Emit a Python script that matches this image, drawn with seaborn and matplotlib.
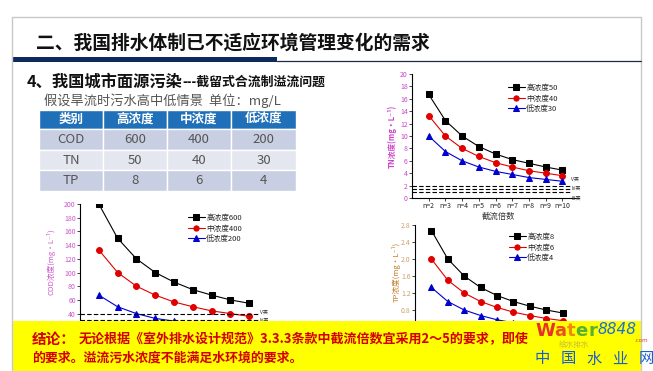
import numpy as np
import pandas as pd
import matplotlib.pyplot as plt
import seaborn as sns
from matplotlib.patches import Rectangle

sns.set_theme(style="ticks")
plt.rcParams['font.family'] = ['Noto Sans CJK SC', 'DejaVu Sans']
plt.rcParams['axes.unicode_minus'] = False

W, H = 653, 371

# data
n_values = [2, 3, 4, 5, 6, 7, 8, 9, 10]
n_labels = ["n=2", "n=3", "n=4", "n=5", "n=6", "n=7", "n=8", "n=9", "n=10"]

tn_high = [16.7, 12.5, 10.0, 8.3, 7.1, 6.2, 5.6, 5.0, 4.5]
tn_mid = [13.3, 10.0, 8.0, 6.7, 5.7, 5.0, 4.4, 4.0, 3.6]
tn_low = [10.0, 7.5, 6.0, 5.0, 4.3, 3.8, 3.3, 3.0, 2.7]

cod_high = [200, 150, 120, 100, 86, 75, 67, 60, 55]
cod_mid = [133, 100, 80, 67, 57, 50, 44, 40, 36]
cod_low = [67, 50, 40, 33, 29, 25, 22, 20, 18]

tp_high = [2.67, 2.0, 1.6, 1.33, 1.14, 1.0, 0.89, 0.8, 0.73]
tp_mid = [2.0, 1.5, 1.2, 1.0, 0.86, 0.75, 0.67, 0.6, 0.55]
tp_low = [1.33, 1.0, 0.8, 0.67, 0.57, 0.5, 0.44, 0.4, 0.36]

std_labels = ["V类", "IV类", "III类"]
tn_std = [2.0, 1.5, 1.0]
cod_std = [40, 30, 20]
tp_std = [0.4, 0.3, 0.2]

table_header = ["类别", "高浓度", "中浓度", "低浓度"]
table_rows = [["COD", "600", "400", "200"],
              ["TN", "50", "40", "30"],
              ["TP", "8", "6", "4"]]

fig = plt.figure(figsize=(W / 100, H / 100), dpi=100)
fig.patch.set_facecolor("white")


def ax_px(x0, y0, x1, y1):
    return fig.add_axes([x0 / W, 1 - y1 / H, (x1 - x0) / W, (y1 - y0) / H])


colors = ["black", "#e00000", "#0000d0"]
markers = ["s", "o", "^"]


def draw_chart(ax, series, labels, std, ylim, yticks, tick_color, leg_xy,
               show_x=True, std_shown=3, label_gap=0.0):
    for vals, lab, c, m in zip(series, labels, colors, markers):
        df = pd.DataFrame({"n": n_values, "v": vals})
        sns.lineplot(data=df, x="n", y="v", ax=ax, color=c, marker=m,
                     markersize=4.2, markeredgecolor=c, linewidth=0.8, label=lab)
    ax.hlines(std, 1, 10.5, colors="black", linestyles=(0, (4, 2)), linewidth=0.8)
    # labels of the water-quality classes are spread a little apart
    for k, (v, t) in enumerate(list(zip(std, std_labels))[:std_shown]):
        ax.text(10.55, v + (1 - k) * label_gap, t, fontsize=3.6, va="center",
                ha="left", color="#333")
    ax.set_xlim(1, 11)
    ax.set_ylim(*ylim)
    ax.set_yticks(yticks)
    ax.set_xticks(n_values)
    if show_x:
        ax.set_xticklabels(n_labels)
    else:
        ax.set_xticklabels([])
    ax.set_xlabel("")
    ax.set_ylabel("")
    ax.set_facecolor("none")
    for s in ["top", "right"]:
        ax.spines[s].set_visible(False)
    for s in ["left", "bottom"]:
        ax.spines[s].set_linewidth(0.8)
        ax.spines[s].set_color("black")
    ax.tick_params(length=2, width=0.6, labelsize=5, pad=1)
    ax.tick_params(axis="y", labelcolor=tick_color)
    ax.legend(frameon=False, fontsize=5.5, loc="upper left",
              bbox_to_anchor=(leg_xy[0] / W, 1 - leg_xy[1] / H),
              bbox_transform=fig.transFigure, handlelength=2.2,
              handletextpad=0.2, labelspacing=0.35, borderpad=0, markerscale=0.9)


# TN chart (top right)
ax_tn = ax_px(412, 74, 579, 198)
draw_chart(ax_tn, [tn_high, tn_mid, tn_low], ["高浓度50", "中浓度40", "低浓度30"],
           tn_std, (0, 20), np.arange(0, 21, 2), "#cc44cc", (504, 80),
           label_gap=1.0)

# COD chart (bottom left), lower part sits under the banner
ax_cod = ax_px(80, 204, 268, 341)
draw_chart(ax_cod, [cod_high, cod_mid, cod_low], ["高浓度600", "中浓度400", "低浓度200"],
           cod_std, (0, 200), np.arange(40, 201, 20), "#cc55cc", (184, 210),
           show_x=False, std_shown=2, label_gap=2.0)

# TP chart (bottom right)
ax_tp = ax_px(415, 225, 579, 344)
draw_chart(ax_tp, [tp_high, tp_mid, tp_low], ["高浓度8", "中浓度6", "低浓度4"],
           tp_std, (0, 2.8), [0.8, 1.2, 1.6, 2.0, 2.4, 2.8], "#c9a36b", (505, 229),
           show_x=False, std_shown=0)
ax_tp.set_yticklabels(["0.8", "1.2", "1.6", "2.0", "2.4", "2.8"])

# overlay in pixel coordinates
fg = fig.add_axes([0, 0, 1, 1])
fg.set_xlim(0, W)
fg.set_ylim(H, 0)
fg.axis("off")
fg.set_zorder(10)
fg.patch.set_alpha(0)

# slide frame
fg.plot([12, 641], [17, 17], color="#c8c8c8", lw=1)
fg.plot([12, 12], [17, 371], color="#c8c8c8", lw=1)
fg.plot([641, 641], [17, 371], color="#c8c8c8", lw=1)

fg.text(36, 43, "二、我国排水体制已不适应环境管理变化的需求", fontsize=13.5,
        fontweight="bold", color="#111111", va="center", ha="left")
fg.add_patch(Rectangle((12, 57), 265, 4.5, color="#0d2a5c", lw=0))
fg.plot([277, 641], [60.5, 60.5], color="#1c2c4c", lw=0.9)

fg.text(27, 87, "4、我国城市面源污染", fontsize=11.7, fontweight="bold",
        color="#111111", va="baseline", ha="left")
fg.text(182, 86, "---截留式合流制溢流问题", fontsize=9.3, fontweight="bold",
        color="#111111", va="baseline", ha="left")
fg.text(44, 101, "假设旱流时污水高中低情景  单位：mg/L", fontsize=9.5,
        color="#555555", va="center", ha="left")

# table
col_edges = [39, 103, 167, 231, 296]
row_edges = [110, 129, 150, 170, 191]
row_colors = ["#c8cfe2", "#e4e7f0", "#c8cfe2"]
for j in range(4):
    x0, x1 = col_edges[j], col_edges[j + 1]
    fg.add_patch(Rectangle((x0, row_edges[0]), x1 - x0, row_edges[1] - row_edges[0],
                           facecolor="#1f70b8", edgecolor="white", lw=1))
    fg.text((x0 + x1) / 2, (row_edges[0] + row_edges[1]) / 2, table_header[j],
            fontsize=9, fontweight="bold", color="white", ha="center", va="center")
    for i, row in enumerate(table_rows):
        y0, y1 = row_edges[i + 1], row_edges[i + 2]
        fg.add_patch(Rectangle((x0, y0), x1 - x0, y1 - y0,
                               facecolor=row_colors[i], edgecolor="white", lw=1))
        fg.text((x0 + x1) / 2, (y0 + y1) / 2, row[j], fontsize=9.5,
                color="#555555", ha="center", va="center")

# axis titles
fg.text(392, 136, "TN浓度(mg·L⁻¹)", fontsize=5.5, fontweight="bold",
        color="#cc44cc", rotation=90, ha="center", va="center")
fg.text(498, 216, "截流倍数", fontsize=6, color="#333333", ha="center", va="center")
fg.text(51, 262, "COD浓度(mg·L⁻¹)", fontsize=5.5, color="#cc55cc",
        rotation=90, ha="center", va="center")
fg.text(396, 272, "TP浓度(mg·L⁻¹)", fontsize=5.5, color="#c07a20",
        rotation=90, ha="center", va="center")

# conclusion banner
fg.add_patch(Rectangle((12, 321), 629, 50, color="#ffff00", lw=0))
fg.text(32, 339, "结论：", fontsize=10.5, fontweight="bold", color="#d40000",
        ha="left", va="center")
fg.text(79, 339, "无论根据《室外排水设计规范》3.3.3条款中截流倍数宜采用2～5的要求，即使",
        fontsize=9.4, fontweight="bold", color="#d40000", ha="left", va="center")
fg.text(32, 358, "的要求。溢流污水浓度不能满足水环境的要求。", fontsize=9.3,
        fontweight="bold", color="#d40000", ha="left", va="center")

# watermark
fg.text(574, 345, "给水排水", fontsize=5.5, color="#a08060", alpha=0.55, ha="center", va="center")
for ch, x, c in zip("Water", [535, 554.5, 567, 575.5, 588],
                    ["#e8302a", "#e85020", "#f08a00", "#5ab030", "#5ab030"]):
    fg.text(x, 331, ch, fontsize=13, fontweight="bold", color=c, ha="left",
            va="center", family="DejaVu Sans")
fg.text(597, 330, "8848", fontsize=11, style="italic", color="#1a6fd8",
        ha="left", va="center", family="DejaVu Sans")
fg.text(634, 341, ".com", fontsize=4, color="#e04020", ha="left", va="center",
        family="DejaVu Sans")
for ch, x in zip("中国水业网", [542, 568, 594, 620, 646]):
    fg.text(x, 359, ch, fontsize=11, color="#1a5fd0", ha="center", va="center")

fig.savefig("out.png", dpi=100)
